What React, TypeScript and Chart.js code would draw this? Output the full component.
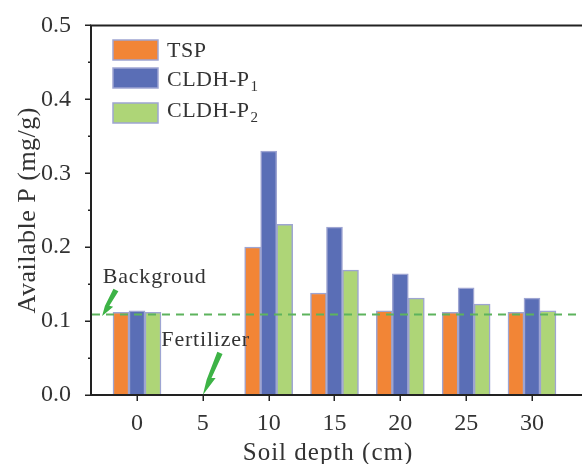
import React, { useEffect, useRef } from 'react';
import { Chart, registerables } from 'chart.js';

Chart.register(...registerables);

// ---- data ----
const depths = [0, 10, 15, 20, 25, 30];
const xTickValues = [0, 5, 10, 15, 20, 25, 30];
const xTickLabels = ['0', '5', '10', '15', '20', '25', '30'];
const yTickValues = [0, 0.1, 0.2, 0.3, 0.4, 0.5];
const yMinorValues = [0.05, 0.15, 0.25, 0.35, 0.45];
const seriesMain = ['TSP', 'CLDH-P', 'CLDH-P'];
const seriesSub = ['', '1', '2'];
const tsp = [0.112, 0.2, 0.138, 0.114, 0.112, 0.112];
const cldhP1 = [0.114, 0.33, 0.227, 0.164, 0.145, 0.131];
const cldhP2 = [0.112, 0.231, 0.169, 0.131, 0.123, 0.114];
const backgroundLevel = 0.109;
const fertilizerDepth = 5;

const FONT = '"Liberation Serif", "DejaVu Serif", serif';
const INK = '#333333';
const AXIS = '#222222';
const colors = ['#F28536', '#5A6EB6', '#AED577'];
const borderCol = '#9EA5D2';
const arrowGreen = '#3DB346';
const dashGreen = '#5DB35D';

function drawBolt(ctx: CanvasRenderingContext2D, x0: number, y0: number, x1: number, y1: number) {
  const dx = x1 - x0;
  const dy = y1 - y0;
  const L = Math.hypot(dx, dy);
  const ux = dx / L, uy = dy / L;
  const nx = -uy, ny = ux;
  const pt = (t: number, n: number): [number, number] => [x0 + ux * L * t + nx * n, y0 + uy * L * t + ny * n];
  const pts: [number, number][] = [
    pt(0, 2.8), pt(0, -2.8), pt(0.58, -1.6), pt(0.55, -5.5), pt(1, 0), pt(0.66, 2.2),
  ];
  ctx.save();
  ctx.fillStyle = arrowGreen;
  ctx.beginPath();
  pts.forEach((p, i) => (i === 0 ? ctx.moveTo(p[0], p[1]) : ctx.lineTo(p[0], p[1])));
  ctx.closePath();
  ctx.fill();
  ctx.restore();
}

const decorPlugin = {
  id: 'decor',
  afterDatasetsDraw(chart: any) {
    const { ctx, chartArea, scales } = chart;
    const ys = scales.y;
    ctx.save();
    ctx.strokeStyle = dashGreen;
    ctx.lineWidth = 2;
    ctx.setLineDash([8, 6]);
    const yb = ys.getPixelForValue(backgroundLevel);
    ctx.beginPath();
    ctx.moveTo(chartArea.left + 2, yb);
    ctx.lineTo(chartArea.right, yb);
    ctx.stroke();
    ctx.restore();
  },
  afterDraw(chart: any) {
    const { ctx, chartArea, scales } = chart;
    const xs = scales.x, ys = scales.y;
    const L = chartArea.left, R = chartArea.right, T = chartArea.top, B = chartArea.bottom;
    ctx.save();
    ctx.strokeStyle = AXIS;
    ctx.lineWidth = 2;
    ctx.beginPath();
    ctx.moveTo(L + 1, T);
    ctx.lineTo(L + 1, B + 1);
    ctx.moveTo(L, B);
    ctx.lineTo(R, B);
    ctx.moveTo(L, T);
    ctx.lineTo(R, T);
    ctx.stroke();
    ctx.lineWidth = 1.5;
    ctx.beginPath();
    yTickValues.forEach((v) => {
      const y = Math.round(ys.getPixelForValue(v)) + 0.25;
      ctx.moveTo(L - 5, y);
      ctx.lineTo(L + 1, y);
    });
    yMinorValues.forEach((v) => {
      const y = Math.round(ys.getPixelForValue(v)) + 0.25;
      ctx.moveTo(L - 2, y);
      ctx.lineTo(L + 1, y);
    });
    xTickValues.forEach((v) => {
      const x = Math.round(xs.getPixelForValue(v)) + 0.25;
      ctx.moveTo(x, B);
      ctx.lineTo(x, B + 6);
    });
    ctx.stroke();

    // legend
    const boxTops = [40, 68, 103];
    const baselines = [57, 86, 117];
    ctx.textBaseline = 'alphabetic';
    ctx.textAlign = 'left';
    seriesMain.forEach((name, i) => {
      ctx.fillStyle = colors[i];
      ctx.fillRect(113, boxTops[i], 45, 20);
      ctx.strokeStyle = borderCol;
      ctx.lineWidth = 1.5;
      ctx.strokeRect(113, boxTops[i], 45, 20);
      ctx.fillStyle = INK;
      ctx.font = `22px ${FONT}`;
      (ctx as any).letterSpacing = '0.5px';
      ctx.fillText(name, 167, baselines[i]);
      if (seriesSub[i]) {
        const w = ctx.measureText(name).width;
        ctx.font = `15px ${FONT}`;
        ctx.fillText(seriesSub[i], 167 + w + 1, baselines[i] + 5);
      }
    });

    // annotations
    (ctx as any).letterSpacing = '0.8px';
    ctx.font = `22px ${FONT}`;
    ctx.fillStyle = INK;
    ctx.fillText('Backgroud', xs.getPixelForValue(-2.6), ys.getPixelForValue(0.152));
    ctx.fillText('Fertilizer', xs.getPixelForValue(1.85), ys.getPixelForValue(0.066));
    drawBolt(ctx, xs.getPixelForValue(-1.6), ys.getPixelForValue(0.142), xs.getPixelForValue(-2.65), ys.getPixelForValue(backgroundLevel - 0.002));
    drawBolt(ctx, xs.getPixelForValue(fertilizerDepth + 1.3), ys.getPixelForValue(0.057), xs.getPixelForValue(fertilizerDepth), ys.getPixelForValue(0));

    // axis titles
    ctx.fillStyle = INK;
    ctx.textAlign = 'center';
    (ctx as any).letterSpacing = '1px';
    ctx.font = `25px ${FONT}`;
    ctx.fillText('Soil depth (cm)', L + 238, 460);
    ctx.save();
    ctx.translate(35, (T + B) / 2);
    ctx.rotate(-Math.PI / 2);
    (ctx as any).letterSpacing = '0.5px';
    ctx.font = `26px ${FONT}`;
    ctx.fillText('Available P (mg/g)', 0, 0);
    ctx.restore();
    ctx.restore();
  },
};

export default function App() {
  const ref = useRef<HTMLCanvasElement | null>(null);
  useEffect(() => {
    document.body.style.margin = '0';
    const canvas = ref.current;
    if (!canvas) return;
    const mk = (vals: number[]) => depths.map((d, i) => ({ x: d, y: vals[i] }));
    const chart = new Chart(canvas, {
      type: 'bar',
      data: {
        datasets: [tsp, cldhP1, cldhP2].map((vals, i) => ({
          label: seriesMain[i] + seriesSub[i],
          data: mk(vals),
          backgroundColor: colors[i],
          borderColor: borderCol,
          borderWidth: 1.5,
          barThickness: 16,
        })),
      },
      options: {
        responsive: false,
        animation: false,
        devicePixelRatio: 1,
        layout: { padding: { top: 25, right: 0, left: 0, bottom: 0 } },
        plugins: { legend: { display: false }, tooltip: { enabled: false } },
        scales: {
          x: {
            type: 'linear',
            offset: false,
            min: -3.57,
            max: 33.8,
            grid: { display: false, offset: false },
            border: { display: false },
            afterBuildTicks: (s: any) => {
              s.ticks = xTickValues.map((v) => ({ value: v }));
            },
            afterFit: (s: any) => {
              s.height = 69;
            },
            ticks: {
              autoSkip: false,
              maxRotation: 0,
              padding: 6,
              color: INK,
              font: { family: FONT, size: 24 },
              callback: (_v: any, i: number) => xTickLabels[i],
            },
          },
          y: {
            min: 0,
            max: 0.5,
            grid: { display: false },
            border: { display: false },
            afterBuildTicks: (s: any) => {
              s.ticks = yTickValues.map((v) => ({ value: v }));
            },
            afterFit: (s: any) => {
              s.width = 90;
            },
            ticks: {
              padding: 11,
              color: INK,
              font: { family: FONT, size: 24 },
              callback: (v: any) => Number(v).toFixed(1),
            },
          },
        },
      },
      plugins: [decorPlugin],
    } as any);
    return () => chart.destroy();
  }, []);
  return <canvas ref={ref} width={582} height={464} style={{ display: 'block' }} />;
}
